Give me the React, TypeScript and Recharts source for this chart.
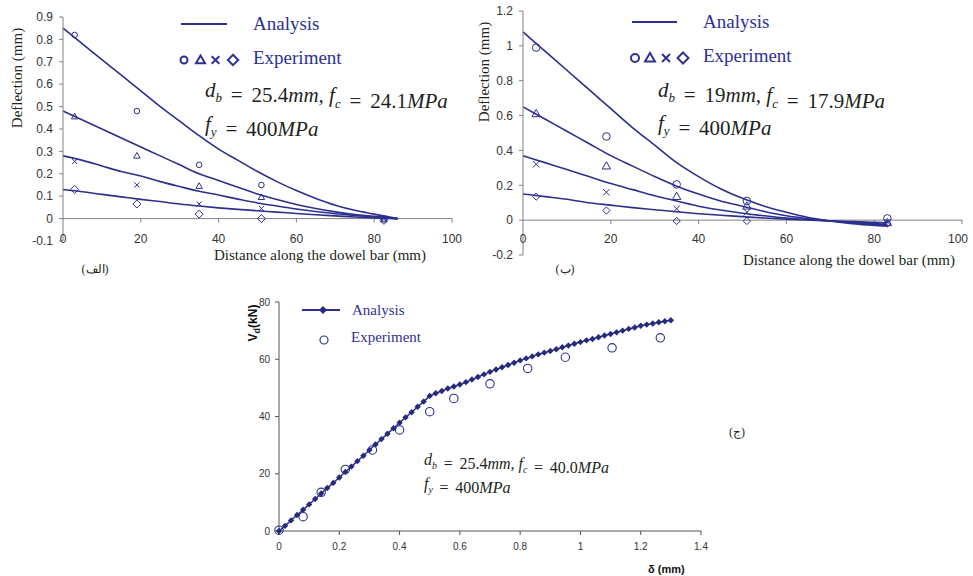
import React from "react";
import { ComposedChart, Line, Scatter, XAxis, YAxis, ReferenceLine } from "recharts";

const NAVY = "#2b2f8d";
const LEGEND = "#2e3192";
const AXIS = "#808080";
const TICK = "#333333";
const INK = "#231f20";
const SANS = "Liberation Sans, Arial, sans-serif";
const SERIF = "Liberation Serif, Times New Roman, serif";

// (الف) db = 25.4mm, fc = 24.1MPa
const distA = [0, 5, 10, 15, 20, 25, 30, 35, 40, 45, 50, 55, 60, 65, 70, 75, 80, 86];
const anaA1 = [0.85, 0.78, 0.71, 0.64, 0.57, 0.5, 0.435, 0.37, 0.31, 0.26, 0.21, 0.165, 0.125, 0.09, 0.06, 0.037, 0.02, 0];
const anaA2 = [0.48, 0.44, 0.4, 0.36, 0.32, 0.28, 0.24, 0.2, 0.17, 0.14, 0.11, 0.085, 0.063, 0.045, 0.03, 0.018, 0.01, 0];
const anaA3 = [0.28, 0.26, 0.235, 0.21, 0.19, 0.165, 0.143, 0.122, 0.105, 0.087, 0.07, 0.056, 0.043, 0.032, 0.022, 0.014, 0.007, 0];
const anaA4 = [0.13, 0.12, 0.108, 0.097, 0.086, 0.076, 0.065, 0.056, 0.048, 0.041, 0.035, 0.029, 0.023, 0.017, 0.012, 0.007, 0.003, 0];
const expDistA = [3, 19, 35, 51, 82.5];
const circA = [0.82, 0.48, 0.24, 0.15, 0.0];
const triA = [0.455, 0.28, 0.145, 0.095, -0.005];
const crossA = [0.255, 0.15, 0.065, 0.045, 0.0];
const diamA = [0.13, 0.065, 0.02, 0.0, -0.008];
const ticksXA = [0, 20, 40, 60, 80, 100];
const ticksYA = [-0.1, 0, 0.1, 0.2, 0.3, 0.4, 0.5, 0.6, 0.7, 0.8, 0.9];

// (ب) db = 19mm, fc = 17.9MPa
const distB = [0, 5, 10, 15, 20, 25, 30, 35, 40, 45, 50, 55, 60, 65, 70, 75, 80, 83];
const anaB1 = [1.08, 0.97, 0.86, 0.75, 0.64, 0.53, 0.43, 0.33, 0.25, 0.18, 0.125, 0.08, 0.045, 0.015, -0.005, -0.02, -0.03, -0.035];
const anaB2 = [0.65, 0.58, 0.51, 0.44, 0.37, 0.31, 0.25, 0.195, 0.15, 0.11, 0.08, 0.05, 0.025, 0.008, -0.005, -0.015, -0.025, -0.03];
const anaB3 = [0.37, 0.33, 0.29, 0.25, 0.21, 0.175, 0.14, 0.11, 0.08, 0.058, 0.04, 0.025, 0.012, 0.003, -0.005, -0.012, -0.02, -0.025];
const anaB4 = [0.15, 0.135, 0.12, 0.1, 0.086, 0.072, 0.06, 0.048, 0.037, 0.028, 0.02, 0.012, 0.006, 0.001, -0.004, -0.008, -0.013, -0.016];
const expDistB = [3, 19, 35, 51, 83];
const circB = [0.99, 0.48, 0.205, 0.11, 0.01];
const triB = [0.61, 0.31, 0.135, 0.08, -0.015];
const crossB = [0.32, 0.16, 0.065, 0.045, -0.01];
const diamB = [0.135, 0.055, -0.005, -0.005, -0.02];
const ticksXB = [0, 20, 40, 60, 80, 100];
const ticksYB = [-0.2, 0, 0.2, 0.4, 0.6, 0.8, 1, 1.2];

// (ج) db = 25.4mm, fc = 40.0MPa
const deltaAna = [
  0, 0.02, 0.04, 0.06, 0.08, 0.1, 0.12, 0.14, 0.16, 0.18, 0.2, 0.22, 0.24, 0.26, 0.28, 0.3, 0.32,
  0.34, 0.36, 0.38, 0.4, 0.42, 0.44, 0.46, 0.48, 0.5, 0.52, 0.54, 0.56, 0.58, 0.6, 0.62, 0.64,
  0.66, 0.68, 0.7, 0.72, 0.74, 0.76, 0.78, 0.8, 0.82, 0.84, 0.86, 0.88, 0.9, 0.92, 0.94, 0.96,
  0.98, 1, 1.02, 1.04, 1.06, 1.08, 1.1, 1.12, 1.14, 1.16, 1.18, 1.2, 1.22, 1.24, 1.26, 1.28, 1.3,
];
const vdAna = [
  0, 1.8, 3.7, 5.6, 7.4, 9.3, 11.2, 13.1, 15.0, 16.8, 18.7, 20.6, 22.5, 24.4, 26.3, 28.3, 30.2,
  32.1, 34.0, 35.9, 37.8, 39.7, 41.5, 43.4, 45.2, 47.2, 48.1, 48.9, 49.8, 50.5, 51.2, 52.0, 52.9,
  53.8, 54.7, 55.6, 56.4, 57.2, 58.0, 58.8, 59.6, 60.3, 61.0, 61.7, 62.3, 62.9, 63.5, 64.2, 64.8,
  65.4, 66.0, 66.6, 67.1, 67.7, 68.3, 68.8, 69.4, 70.0, 70.6, 71.1, 71.7, 72.1, 72.5, 72.9, 73.3, 73.6,
];
const deltaExp = [0, 0.08, 0.14, 0.22, 0.31, 0.4, 0.5, 0.58, 0.7, 0.825, 0.95, 1.105, 1.265];
const vdExp = [0.3, 5, 13.5, 21.5, 28.3, 35.3, 41.7, 46.3, 51.4, 56.8, 60.7, 64.0, 67.5];
const ticksXC = [0, 0.2, 0.4, 0.6, 0.8, 1, 1.2, 1.4];
const ticksYC = [0, 20, 40, 60, 80];

const pts = (xs: number[], ys: number[]) => xs.map((x, i) => ({ x, y: ys[i] }));
const fmt = (v: number) => String(Math.round(v * 10) / 10);

const circleShape = (r: number, w = 1) => (p: any) => (
  <circle cx={p.cx} cy={p.cy} r={r} fill="none" stroke={NAVY} strokeWidth={w} />
);
const triShape = (s: number) => (p: any) => (
  <path
    d={`M${p.cx},${p.cy - s} L${p.cx + s * 0.95},${p.cy + s * 0.65} L${p.cx - s * 0.95},${p.cy + s * 0.65} Z`}
    fill="none"
    stroke={NAVY}
    strokeWidth={1}
  />
);
const crossShape = (s: number) => (p: any) => (
  <path
    d={`M${p.cx - s},${p.cy - s} L${p.cx + s},${p.cy + s} M${p.cx + s},${p.cy - s} L${p.cx - s},${p.cy + s}`}
    stroke={NAVY}
    strokeWidth={1}
  />
);
const diamondShape = (s: number) => (p: any) => (
  <path
    d={`M${p.cx},${p.cy - s} L${p.cx + s},${p.cy} L${p.cx},${p.cy + s} L${p.cx - s},${p.cy} Z`}
    fill="none"
    stroke={NAVY}
    strokeWidth={1}
  />
);

const lowTick = (shift: number) => (p: any) => (
  <text x={p.x} y={p.y - shift} dy="0.35em" textAnchor="middle" fill={TICK} fontSize={12} fontFamily={SANS}>
    {fmt(p.payload.value)}
  </text>
);

type DeflProps = {
  curves: number[][];
  dist: number[];
  expDist: number[];
  exp: number[][];
  ticksX: number[];
  ticksY: number[];
  width: number;
  height: number;
  margin: { top: number; right: number; bottom: number; left: number };
  tickShift: number;
  tickDrop: number;
  sizes: number[];
};

const DeflectionChart = (props: DeflProps) => {
  const { curves, dist, expDist, exp, ticksX, ticksY, sizes } = props;
  const shapes = [circleShape(sizes[0]), triShape(sizes[1]), crossShape(sizes[2]), diamondShape(sizes[3])];
  return (
    <ComposedChart width={props.width} height={props.height} margin={props.margin}>
      <XAxis
        type="number"
        dataKey="x"
        domain={[0, 100]}
        ticks={ticksX}
        axisLine={false}
        tickLine={false}
        tickSize={0}
        tickMargin={0}
        height={20}
        tick={lowTick(props.tickShift)}
      />
      <YAxis
        type="number"
        dataKey="y"
        domain={[ticksY[0], ticksY[ticksY.length - 1]]}
        ticks={ticksY}
        width={63}
        tickSize={4}
        tickMargin={6}
        tickFormatter={fmt}
        axisLine={{ stroke: AXIS }}
        tickLine={{ stroke: AXIS }}
        tick={{ fill: TICK, fontSize: 12, fontFamily: SANS }}
      />
      <ReferenceLine y={0} stroke={AXIS} strokeWidth={1} />
      {ticksX.slice(1).map((t) => (
        <ReferenceLine
          key={t}
          segment={[
            { x: t, y: 0 },
            { x: t, y: -props.tickDrop },
          ]}
          stroke={AXIS}
        />
      ))}
      {curves.map((c, i) => (
        <Line
          key={"a" + i}
          data={pts(dist, c)}
          dataKey="y"
          type="monotone"
          stroke={NAVY}
          strokeWidth={1.6}
          dot={false}
          isAnimationActive={false}
        />
      ))}
      {exp.map((e, i) => (
        <Scatter key={"e" + i} data={pts(expDist, e)} dataKey="y" shape={shapes[i]} isAnimationActive={false} />
      ))}
    </ComposedChart>
  );
};

const diamondDot = (p: any) => (
  <path
    key={p.index}
    d={`M${p.cx},${p.cy - 3.2} L${p.cx + 3.2},${p.cy} L${p.cx},${p.cy + 3.2} L${p.cx - 3.2},${p.cy} Z`}
    fill="#262a7c"
    stroke="none"
  />
);

const LoadChart = () => (
  <ComposedChart width={500} height={286} margin={{ top: 12, right: 19, bottom: 15, left: 0 }}>
    <XAxis
      type="number"
      dataKey="x"
      domain={[0, 1.4]}
      ticks={ticksXC}
      height={30}
      tickSize={4}
      tickMargin={8}
      tickFormatter={fmt}
      axisLine={{ stroke: "#555" }}
      tickLine={{ stroke: "#555" }}
      tick={{ fill: TICK, fontSize: 10, fontFamily: SANS }}
    />
    <YAxis
      type="number"
      dataKey="y"
      domain={[0, 80]}
      ticks={ticksYC}
      width={59}
      tickSize={4}
      tickMargin={5}
      axisLine={{ stroke: "#555" }}
      tickLine={{ stroke: "#555" }}
      tick={{ fill: TICK, fontSize: 10, fontFamily: SANS }}
    />
    <Line
      data={pts(deltaAna, vdAna)}
      dataKey="y"
      type="linear"
      stroke={NAVY}
      strokeWidth={1.5}
      dot={diamondDot}
      isAnimationActive={false}
    />
    <Scatter data={pts(deltaExp, vdExp)} dataKey="y" shape={circleShape(4.2, 1.1)} isAnimationActive={false} />
  </ComposedChart>
);

const Sub = ({ t, size }: { t: string; size: number }) => (
  <>
    <tspan fontStyle="italic" fontSize={size * 0.62} dy={size * 0.25}>
      {t}
    </tspan>
    <tspan dy={-size * 0.25}></tspan>
  </>
);

// "=" with wide equation spacing on both sides
const Eq = ({ size, value }: { size: number; value: string }) => (
  <>
    <tspan dx={size * 0.42}>=</tspan>
    <tspan dx={size * 0.42}>{value}</tspan>
  </>
);

const Params = ({ x, y, size, db, fc, gap }: { x: number; y: number; size: number; db: string; fc: string; gap: number }) => (
  <g fontFamily={SERIF} fontSize={size} fill={INK}>
    <text x={x} y={y}>
      <tspan fontStyle="italic">d</tspan>
      <Sub t="b" size={size} />
      <Eq size={size} value={db} />
      <tspan fontStyle="italic">mm,</tspan>
      <tspan fontStyle="italic" dx={size * 0.25}>f</tspan>
      <Sub t="c" size={size} />
      <Eq size={size} value={fc} />
      <tspan fontStyle="italic">MPa</tspan>
    </text>
    <text x={x} y={y + gap}>
      <tspan fontStyle="italic">f</tspan>
      <Sub t="y" size={size} />
      <Eq size={size} value="400" />
      <tspan fontStyle="italic">MPa</tspan>
    </text>
  </g>
);

const MarkerRow = ({ x, y, xs, s }: { x: number; y: number; xs: number[]; s: number[] }) => (
  <g stroke={LEGEND} strokeWidth={2} fill="none">
    <circle cx={x + xs[0]} cy={y} r={s[0]} />
    <path d={`M${x + xs[1]},${y - s[1]} L${x + xs[1] + s[1]},${y + s[1] * 0.7} L${x + xs[1] - s[1]},${y + s[1] * 0.7} Z`} />
    <path d={`M${x + xs[2] - s[2]},${y - s[2]} L${x + xs[2] + s[2]},${y + s[2]} M${x + xs[2] + s[2]},${y - s[2]} L${x + xs[2] - s[2]},${y + s[2]}`} />
    <path d={`M${x + xs[3]},${y - s[3]} L${x + xs[3] + s[3]},${y} L${x + xs[3]},${y + s[3]} L${x + xs[3] - s[3]},${y} Z`} />
  </g>
);

const Overlay = () => (
  <svg width={973} height={576} style={{ position: "absolute", left: 0, top: 0, pointerEvents: "none" }}>
    {/* (الف) */}
    <text transform="translate(22,78) rotate(-90)" textAnchor="middle" fontFamily={SERIF} fontSize={15} fill={INK}>
      Deflection (mm)
    </text>
    <text x={214} y={260} fontFamily={SERIF} fontSize={15} fill={INK}>
      Distance along the dowel bar (mm)
    </text>
    <text x={95} y={273} textAnchor="middle" fontFamily={SERIF} fontSize={12} fill={INK}>
      (الف)
    </text>
    <line x1={181} y1={24} x2={227} y2={24} stroke={NAVY} strokeWidth={2} />
    <text x={253} y={30} fontFamily={SERIF} fontSize={19} fill={LEGEND}>
      Analysis
    </text>
    <MarkerRow x={184} y={60} xs={[0, 16.5, 31.5, 49]} s={[3.5, 4.5, 3.8, 5.2]} />
    <text x={253} y={64} fontFamily={SERIF} fontSize={19} fill={LEGEND}>
      Experiment
    </text>
    <Params x={205} y={97} size={21} db="25.4" fc="24.1" gap={34} />

    {/* (ب) */}
    <text transform="translate(489,72) rotate(-90)" textAnchor="middle" fontFamily={SERIF} fontSize={15} fill={INK}>
      Deflection (mm)
    </text>
    <text x={743} y={265} fontFamily={SERIF} fontSize={15} fill={INK}>
      Distance along the dowel bar (mm)
    </text>
    <text x={565} y={273} textAnchor="middle" fontFamily={SERIF} fontSize={12} fill={INK}>
      (ب)
    </text>
    <line x1={632} y1={22} x2={677} y2={22} stroke={NAVY} strokeWidth={2} />
    <text x={703} y={28} fontFamily={SERIF} fontSize={19} fill={LEGEND}>
      Analysis
    </text>
    <MarkerRow x={635} y={58} xs={[0, 15, 31, 48]} s={[4, 5, 4, 5.5]} />
    <text x={703} y={62} fontFamily={SERIF} fontSize={19} fill={LEGEND}>
      Experiment
    </text>
    <Params x={658} y={97} size={21} db="19" fc="17.9" gap={33} />

    {/* (ج) */}
    <text transform="translate(257,323) rotate(-90)" textAnchor="middle" fontFamily={SANS} fontWeight="bold" fontSize={12} fill="#111">
      <tspan>V</tspan>
      <tspan fontSize={9} dy={3}>d</tspan>
      <tspan dy={-3}>(kN)</tspan>
    </text>
    <text x={648} y={573} fontFamily={SANS} fontWeight="bold" fontSize={11} fill="#111">
      δ (mm)
    </text>
    <text x={737} y={436} textAnchor="middle" fontFamily={SERIF} fontSize={12} fill={INK}>
      (ج)
    </text>
    <line x1={302} y1={310} x2={340} y2={310} stroke={NAVY} strokeWidth={2} />
    <path d="M323,306 L327,310 L323,314 L319,310 Z" fill="#262a7c" />
    <text x={352} y={315} fontFamily={SERIF} fontSize={15} fill={LEGEND}>
      Analysis
    </text>
    <circle cx={324} cy={340} r={4} fill="none" stroke={NAVY} strokeWidth={1.2} />
    <text x={351} y={342} fontFamily={SERIF} fontSize={15} fill={LEGEND}>
      Experiment
    </text>
    <Params x={424} y={465} size={16} db="25.4" fc="40.0" gap={24} />
  </svg>
);

export default function App() {
  return (
    <div style={{ position: "absolute", left: 0, top: 0, width: 973, height: 576, background: "#fff" }}>
      <div style={{ position: "absolute", left: 0, top: 0 }}>
        <DeflectionChart
          curves={[anaA1, anaA2, anaA3, anaA4]}
          dist={distA}
          expDist={expDistA}
          exp={[circA, triA, crossA, diamA]}
          ticksX={ticksXA}
          ticksY={ticksYA}
          width={470}
          height={280}
          margin={{ top: 17, right: 18, bottom: 19, left: 0 }}
          tickShift={2}
          tickDrop={0.018}
          sizes={[2.8, 3.4, 2.6, 4]}
        />
      </div>
      <div style={{ position: "absolute", left: 460, top: 0 }}>
        <DeflectionChart
          curves={[anaB1, anaB2, anaB3, anaB4]}
          dist={distB}
          expDist={expDistB}
          exp={[circB, triB, crossB, diamB]}
          ticksX={ticksXB}
          ticksY={ticksYB}
          width={510}
          height={280}
          margin={{ top: 11, right: 8, bottom: 5, left: 0 }}
          tickShift={16}
          tickDrop={0.023}
          sizes={[3.8, 4.4, 3.2, 3.6]}
        />
      </div>
      <div style={{ position: "absolute", left: 220, top: 290 }}>
        <LoadChart />
      </div>
      <Overlay />
    </div>
  );
}
